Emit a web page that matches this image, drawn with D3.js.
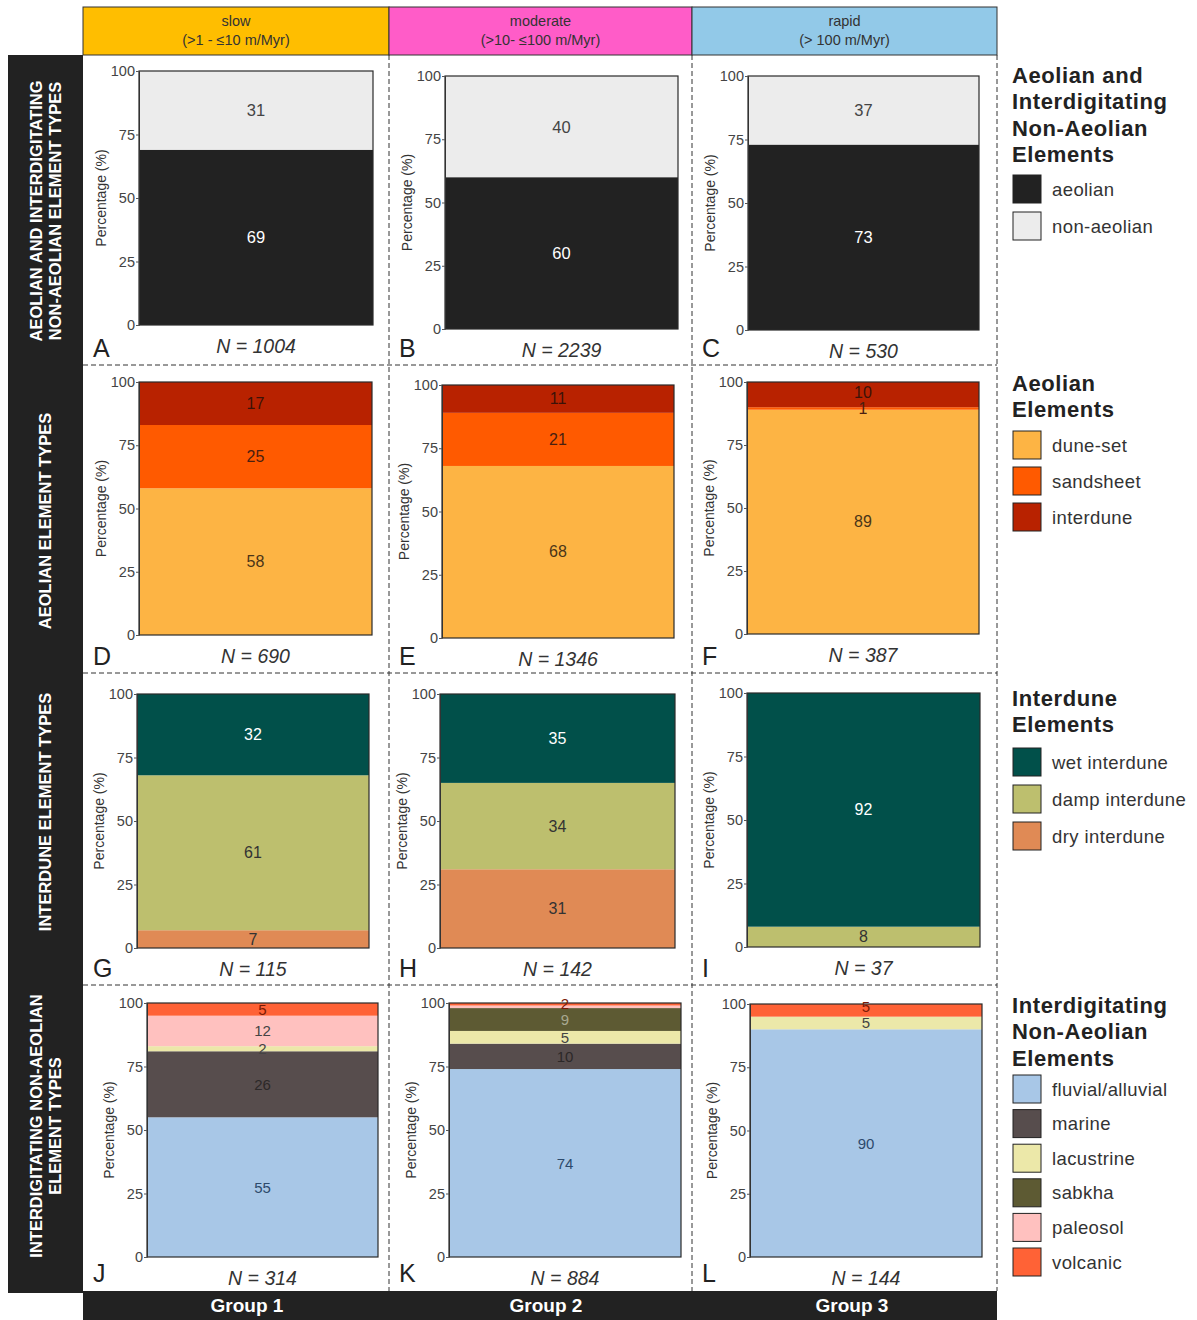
<!DOCTYPE html>
<html>
<head>
<meta charset="utf-8">
<script src="https://cdn.jsdelivr.net/npm/d3@7"></script>
<style>
  body { margin: 0; background: #fff; }
  svg { display: block; font-family: "Liberation Sans", Arial, sans-serif; }
</style>
</head>
<body>
<svg id="chart" width="1197" height="1320"></svg>
<script>
// ---------- data ----------
const rateClasses = ["slow", "moderate", "rapid"];
const rateRanges = ["(>1 - \u226410 m/Myr)", "(>10- \u2264100 m/Myr)", "(> 100 m/Myr)"];
const groupNames = ["Group 1", "Group 2", "Group 3"];
const panelLetters = [["A", "B", "C"], ["D", "E", "F"], ["G", "H", "I"], ["J", "K", "L"]];
const rowTitles = [
  ["AEOLIAN AND INTERDIGITATING", "NON-AEOLIAN ELEMENT TYPES"],
  ["AEOLIAN ELEMENT TYPES"],
  ["INTERDUNE ELEMENT TYPES"],
  ["INTERDIGITATING NON-AEOLIAN", "ELEMENT TYPES"]
];
const tickValues = [0, 25, 50, 75, 100];

// row 1: aeolian vs interdigitating non-aeolian elements
const elementKeys = ["aeolian", "non-aeolian"];
const aeolianPct = [69, 60, 73];
const nonAeolianPct = [31, 40, 37];
const elementN = [1004, 2239, 530];

// row 2: aeolian element types
const aeolianKeys = ["dune-set", "sandsheet", "interdune"];
const duneSetPct = [58, 68, 89];
const sandsheetPct = [25, 21, 1];
const interdunePct = [17, 11, 10];
const aeolianN = [690, 1346, 387];

// row 3: interdune element types
const interduneKeys = ["dry interdune", "damp interdune", "wet interdune"];
const dryPct = [7, 31, 0];
const dampPct = [61, 34, 8];
const wetPct = [32, 35, 92];
const interduneN = [115, 142, 37];

// row 4: interdigitating non-aeolian element types
const nonAeolianKeys = ["fluvial/alluvial", "marine", "lacustrine", "sabkha", "paleosol", "volcanic"];
const fluvialPct = [55, 74, 90];
const marinePct = [26, 10, 0];
const lacustrinePct = [2, 5, 5];
const sabkhaPct = [0, 9, 0];
const paleosolPct = [12, 1, 0];
const volcanicPct = [5, 2, 5];
const nonAeolianN = [314, 884, 144];
// segments that carry no value label
const unlabelled = [{ group: 1, key: "paleosol" }];

// ---------- styles ----------
const rateColours = ["#FFBE00", "#FF5CC8", "#92C9E8"];
const fills = {
  "aeolian": "#222222", "non-aeolian": "#ECECEC",
  "dune-set": "#FDB444", "sandsheet": "#FF5A00", "interdune": "#B82200",
  "dry interdune": "#E08A55", "damp interdune": "#BDBF6E", "wet interdune": "#01504A",
  "fluvial/alluvial": "#A8C7E7", "marine": "#574D4D", "lacustrine": "#ECE8A9",
  "sabkha": "#5D5A33", "paleosol": "#FFC1BF", "volcanic": "#FF6236"
};
const labelInk = {
  "aeolian": "#fff", "non-aeolian": "#444",
  "dune-set": "#4a3418", "sandsheet": "#4a2010", "interdune": "#3c1208",
  "dry interdune": "#333", "damp interdune": "#333", "wet interdune": "#fff",
  "fluvial/alluvial": "#2d4a6c", "marine": "#2c2828", "lacustrine": "#444",
  "sabkha": "#a8a890", "paleosol": "#444", "volcanic": "#7a1a06"
};

const rows = [
  { keys: elementKeys, values: [aeolianPct, nonAeolianPct], n: elementN, labelSize: 16.5 },
  { keys: aeolianKeys, values: [duneSetPct, sandsheetPct, interdunePct], n: aeolianN, labelSize: 16 },
  { keys: interduneKeys, values: [dryPct, dampPct, wetPct], n: interduneN, labelSize: 16 },
  { keys: nonAeolianKeys, values: [fluvialPct, marinePct, lacustrinePct, sabkhaPct, paleosolPct, volcanicPct], n: nonAeolianN, labelSize: 15 }
];

// ---------- layout ----------
const colEdges = [83, 389, 692, 997];
const rowEdges = [55, 365, 673, 985, 1290];
// plot boxes [left, right, top, bottom] per panel
const plotBoxes = [
  [[139, 373, 71, 325], [445, 678, 76, 329], [748, 979, 76, 330]],
  [[139, 372, 382, 635], [442, 674, 385, 638], [747, 979, 382, 634]],
  [[137, 369, 694, 948], [440, 675, 694, 948], [747, 980, 693, 947]],
  [[147, 378, 1003, 1257], [449, 681, 1003, 1257], [750, 982, 1004, 1257]]
];
const rowTitleCentres = [211, 521, 812, 1126];
const labelGap = 16;

const svg = d3.select("#chart");

// left row-title band and bottom group band
svg.append("rect").attr("x", 8).attr("y", 55).attr("width", 75).attr("height", 1238).attr("fill", "#222");
svg.append("rect").attr("x", 83).attr("y", 1291).attr("width", 914).attr("height", 29).attr("fill", "#222");

rowTitles.forEach((lines, r) => {
  const cy = rowTitleCentres[r];
  const xs = lines.length === 2 ? [36, 55] : [45];
  lines.forEach((t, i) => {
    svg.append("text")
      .attr("transform", `translate(${xs[i]},${cy}) rotate(-90)`)
      .attr("text-anchor", "middle").attr("dominant-baseline", "central")
      .attr("fill", "#fff").attr("font-weight", "bold").attr("font-size", 16.5)
      .text(t);
  });
});

const groupCx = [247, 546, 852];
groupNames.forEach((g, c) => {
  svg.append("text").attr("x", groupCx[c]).attr("y", 1312)
    .attr("text-anchor", "middle").attr("fill", "#fff")
    .attr("font-weight", "bold").attr("font-size", 19).text(g);
});

// header row of rate classes
rateClasses.forEach((name, c) => {
  const x0 = colEdges[c], x1 = colEdges[c + 1];
  svg.append("rect").attr("x", x0).attr("y", 7).attr("width", x1 - x0).attr("height", 48)
    .attr("fill", rateColours[c]).attr("stroke", "#333").attr("stroke-width", 1);
  const cx = (x0 + x1) / 2;
  svg.append("text").attr("x", cx).attr("y", 26).attr("text-anchor", "middle")
    .attr("fill", "#333").attr("font-size", 14.5).text(name);
  svg.append("text").attr("x", cx).attr("y", 45).attr("text-anchor", "middle")
    .attr("fill", "#333").attr("font-size", 14.5).text(rateRanges[c]);
});

// dashed panel separators
const dash = "5,3";
[389, 692, 997].forEach(x => {
  svg.append("line").attr("x1", x).attr("x2", x).attr("y1", 55).attr("y2", 1291)
    .attr("stroke", "#333").attr("stroke-dasharray", dash);
});
[365, 673, 985].forEach(y => {
  svg.append("line").attr("x1", 83).attr("x2", 997).attr("y1", y).attr("y2", y)
    .attr("stroke", "#333").attr("stroke-dasharray", dash);
});

// ---------- panels ----------
rows.forEach((row, r) => {
  const table = groupNames.map((g, c) => {
    const o = { group: g };
    row.keys.forEach((k, i) => { o[k] = row.values[i][c]; });
    return o;
  });
  const series = d3.stack().keys(row.keys)(table);

  groupNames.forEach((g, c) => {
    const [L, R, T, B] = plotBoxes[r][c];
    const y = d3.scaleLinear().domain([0, 100]).range([B, T]).clamp(true);
    const x = d3.scaleBand().domain([g]).range([L, R]).padding(0);
    const panel = svg.append("g");

    series.forEach(s => {
      const d = s[c];
      if (d[1] - d[0] <= 0) return;
      panel.append("rect")
        .attr("x", x(g)).attr("width", x.bandwidth())
        .attr("y", y(d[1])).attr("height", y(d[0]) - y(d[1]))
        .attr("fill", fills[s.key]);
    });
    // bar outline
    panel.append("rect").attr("x", L).attr("y", T).attr("width", R - L).attr("height", B - T)
      .attr("fill", "none").attr("stroke", "#2a2a2a").attr("stroke-width", 1.2);

    // value labels, centred in their segments; thin neighbours are nudged apart upward
    const labels = [];
    series.forEach(s => {
      const d = s[c];
      const v = d[1] - d[0];
      if (v <= 0) return;
      if (r === 3 && unlabelled.some(u => u.group === c && u.key === s.key)) return;
      labels.push({ key: s.key, v, y: (y(d[0]) + y(d[1])) / 2 });
    });
    for (let i = 1; i < labels.length; i++) {
      if (labels[i - 1].y - labels[i].y < labelGap) labels[i].y = labels[i - 1].y - labelGap;
    }
    labels.forEach(lb => {
      panel.append("text").attr("x", x(g) + x.bandwidth() / 2).attr("y", lb.y)
        .attr("text-anchor", "middle").attr("dominant-baseline", "central")
        .attr("fill", labelInk[lb.key]).attr("font-size", row.labelSize).text(lb.v);
    });

    // y axis
    const ax = panel.append("g").attr("transform", `translate(${L},0)`)
      .call(d3.axisLeft(y).tickValues(tickValues).tickSize(3).tickSizeOuter(0).tickPadding(1));
    ax.select(".domain").attr("stroke", "#333");
    ax.selectAll(".tick line").attr("stroke", "#555");
    ax.selectAll(".tick text").attr("fill", "#444").attr("font-size", 14.5)
      .attr("font-family", "'Liberation Sans', Arial, sans-serif");

    panel.append("text")
      .attr("transform", `translate(${L - 38},${(T + B) / 2}) rotate(-90)`)
      .attr("text-anchor", "middle").attr("dominant-baseline", "central")
      .attr("fill", "#333").attr("font-size", 14).text("Percentage (%)");

    // sample size
    panel.append("text").attr("x", (L + R) / 2).attr("y", B + 28)
      .attr("text-anchor", "middle").attr("fill", "#333")
      .attr("font-style", "italic").attr("font-size", 19.5).text(`N = ${row.n[c]}`);

    // panel letter
    panel.append("text").attr("x", colEdges[c] + 10).attr("y", rowEdges[r + 1] - 8)
      .attr("fill", "#222").attr("font-size", 25).text(panelLetters[r][c]);
  });
});

// ---------- legends ----------
const legends = [
  { title: ["Aeolian and", "Interdigitating", "Non-Aeolian", "Elements"], titleY: 75, keys: elementKeys, itemY: 189, step: 37 },
  { title: ["Aeolian", "Elements"], titleY: 383, keys: aeolianKeys.slice(), itemY: 445, step: 36 },
  { title: ["Interdune", "Elements"], titleY: 698, keys: interduneKeys.slice().reverse(), itemY: 762, step: 37 },
  { title: ["Interdigitating", "Non-Aeolian", "Elements"], titleY: 1005, keys: nonAeolianKeys, itemY: 1089, step: 34.6 }
];
legends.forEach(lg => {
  const g = svg.append("g");
  lg.title.forEach((t, i) => {
    g.append("text").attr("x", 1012).attr("y", lg.titleY + i * 26.5)
      .attr("dominant-baseline", "central").attr("fill", "#222")
      .attr("font-weight", "bold").attr("font-size", 22).attr("letter-spacing", 0.6).text(t);
  });
  lg.keys.forEach((k, i) => {
    const cy = lg.itemY + i * lg.step;
    g.append("rect").attr("x", 1013).attr("y", cy - 14).attr("width", 28).attr("height", 28)
      .attr("fill", fills[k]).attr("stroke", "#222").attr("stroke-width", 1);
    g.append("text").attr("x", 1052).attr("y", cy).attr("dominant-baseline", "central")
      .attr("fill", "#333").attr("font-size", 18.5).attr("letter-spacing", 0.4).text(k);
  });
});
</script>
</body>
</html>
